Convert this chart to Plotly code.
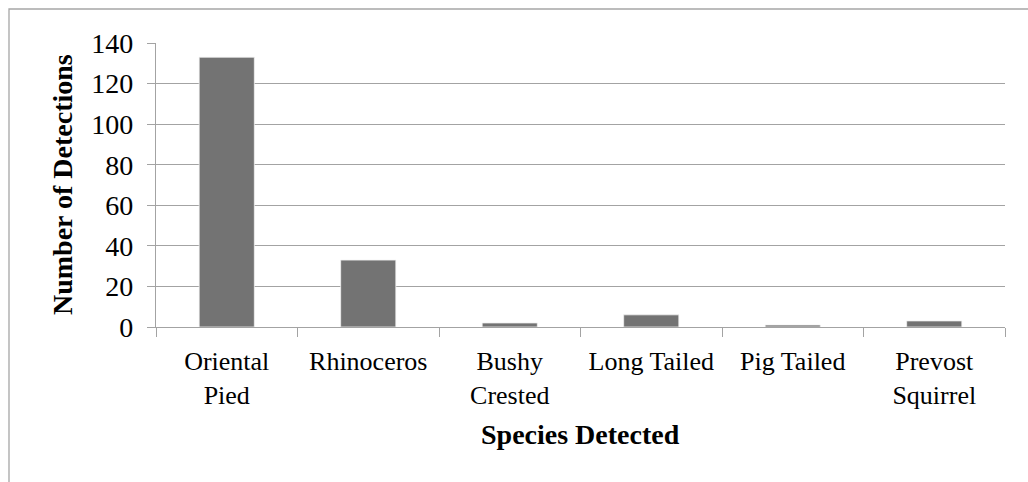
import plotly.graph_objects as go

# Detections per species
species = ["Oriental Pied", "Rhinoceros", "Bushy Crested", "Long Tailed", "Pig Tailed", "Prevost Squirrel"]
tick_labels = ["Oriental<br>Pied", "Rhinoceros", "Bushy<br>Crested", "Long Tailed", "Pig Tailed", "Prevost<br>Squirrel"]
detections = [133, 33, 2, 6, 1, 3]
y_ticks = [0, 20, 40, 60, 80, 100, 120, 140]

FONT = "Liberation Serif"
GRID = "#a3a3a3"

W, H = 1028, 482
L, R, T, B = 156, 23, 43, 155
pw, ph = W - L - R, H - T - B


def px_to_paper_x(px):
    return (px - L) / pw


def px_to_paper_y(py):
    return (H - B - py) / ph


fig = go.Figure(
    go.Bar(
        x=species,
        y=detections,
        marker=dict(color="#737373", line=dict(color="#f2f2f2", width=0.8)),
        width=0.39,
    )
)

fig.update_layout(
    width=W,
    height=H,
    margin=dict(l=L, r=R, t=T, b=B, pad=0),
    paper_bgcolor="white",
    plot_bgcolor="white",
    showlegend=False,
    font=dict(family=FONT, size=26, color="black"),
    xaxis=dict(
        tickmode="array",
        tickvals=species,
        ticktext=tick_labels,
        tickson="boundaries",
        ticks="outside",
        ticklen=9,
        tickwidth=1.3,
        tickcolor=GRID,
        showline=True,
        linecolor=GRID,
        linewidth=1.3,
        showgrid=False,
        tickangle=0,
        tickfont=dict(family=FONT, size=26),
        ticklabelstandoff=11,
        automargin=False,
    ),
    yaxis=dict(
        range=[0, 140],
        tickmode="array",
        tickvals=y_ticks,
        ticks="outside",
        ticklen=8,
        tickwidth=1.3,
        tickcolor=GRID,
        showline=True,
        linecolor=GRID,
        linewidth=1.3,
        showgrid=True,
        gridcolor=GRID,
        gridwidth=1.3,
        zeroline=False,
        tickfont=dict(family=FONT, size=28),
        ticklabelstandoff=8,
        automargin=False,
    ),
    annotations=[
        dict(
            text="<b>Species Detected</b>",
            xref="paper", yref="paper",
            x=px_to_paper_x(580), y=px_to_paper_y(434),
            xanchor="center", yanchor="middle",
            showarrow=False,
            font=dict(family=FONT, size=28, color="black"),
        ),
        dict(
            text="<b>Number of Detections</b>",
            xref="paper", yref="paper",
            x=px_to_paper_x(62), y=px_to_paper_y(185),
            xanchor="center", yanchor="middle",
            textangle=-90,
            showarrow=False,
            font=dict(family=FONT, size=28, color="black"),
        ),
    ],
    shapes=[
        dict(
            type="rect",
            xref="paper", yref="paper",
            x0=px_to_paper_x(9), x1=px_to_paper_x(1040),
            y0=px_to_paper_y(500), y1=px_to_paper_y(9),
            line=dict(color="#a6a6a6", width=1.3),
            fillcolor="rgba(0,0,0,0)",
            layer="below",
        )
    ],
)

fig.write_html("out.html")
